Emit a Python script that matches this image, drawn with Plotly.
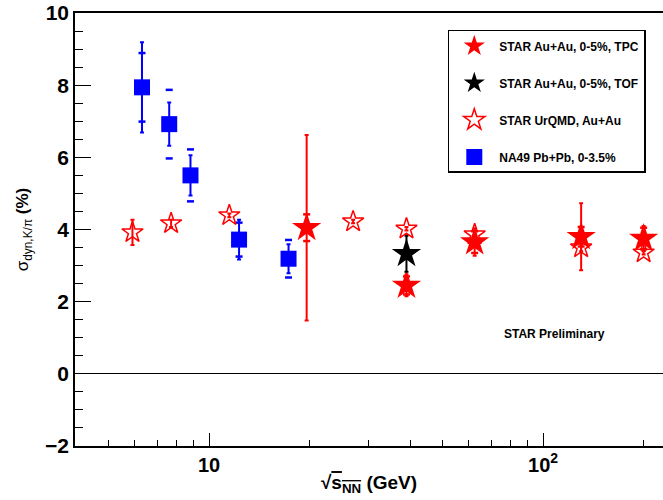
import plotly.graph_objects as go

# ---- data ----
tpc_e = [19.6, 39, 62.4, 130, 200]
tpc_y = [4.05, 2.45, 3.65, 3.8, 3.75]
tpc_stat = [2.57, 0.3, 0.38, 0.93, 0.35]
tpc_sys = [0.37, 0.25, 0.3, 0.27, 0.3]

tof_e = [39]
tof_y = [3.33]
tof_stat = [0.5]

urqmd_e = [5.9, 7.7, 11.5, 27, 39, 62.4, 130, 200]
urqmd_y = [3.92, 4.17, 4.39, 4.22, 4.02, 3.86, 3.5, 3.36]
urqmd_err = [0.35, 0.1, 0.05, 0.05, 0.05, 0.1, 0.1, 0.05]

na49_e = [6.3, 7.6, 8.8, 12.3, 17.3]
na49_y = [7.94, 6.92, 5.5, 3.72, 3.19]
na49_stat = [1.25, 0.6, 0.56, 0.55, 0.4]
na49_sys = [0.95, 0.95, 0.72, 0.47, 0.52]

legend_names = ["STAR Au+Au, 0-5%, TPC", "STAR Au+Au, 0-5%, TOF",
                "STAR UrQMD, Au+Au", "NA49 Pb+Pb, 0-3.5%"]

RED = "#ff0000"
BLUE = "#0000ff"
FONT = "Liberation Sans, Arial, sans-serif"

fig = go.Figure()

# NA49 systematic marks
fig.add_trace(go.Scatter(
    x=na49_e + na49_e,
    y=[v + s for v, s in zip(na49_y, na49_sys)] + [v - s for v, s in zip(na49_y, na49_sys)],
    mode="markers", showlegend=False, hoverinfo="skip",
    marker=dict(symbol="line-ew", size=5, line=dict(color=BLUE, width=2.5)),
))
# STAR TPC systematic marks
fig.add_trace(go.Scatter(
    x=tpc_e + tpc_e,
    y=[v + s for v, s in zip(tpc_y, tpc_sys)] + [v - s for v, s in zip(tpc_y, tpc_sys)],
    mode="markers", showlegend=False, hoverinfo="skip",
    marker=dict(symbol="line-ew", size=5, line=dict(color=RED, width=2.5)),
))

fig.add_trace(go.Scatter(
    x=tpc_e, y=tpc_y, mode="markers", name="<b>%s</b>" % legend_names[0],
    legendgroup="a",
    marker=dict(symbol="star", size=22, color=RED, line=dict(width=0)),
    error_y=dict(type="data", array=tpc_stat, color=RED, thickness=2, width=2),
))
fig.add_trace(go.Scatter(
    x=tof_e, y=tof_y, mode="markers", name="<b>%s</b>" % legend_names[1],
    legendgroup="b",
    marker=dict(symbol="star", size=22, color="black", line=dict(width=0)),
    error_y=dict(type="data", array=tof_stat, color="black", thickness=2, width=2),
))
fig.add_trace(go.Scatter(
    x=urqmd_e, y=urqmd_y, mode="markers", name="<b>%s</b>" % legend_names[2],
    legendgroup="c",
    marker=dict(symbol="star-open", size=16, color=RED, line=dict(width=1.5, color=RED)),
    error_y=dict(type="data", array=urqmd_err, color=RED, thickness=2, width=2),
))
fig.add_trace(go.Scatter(
    x=na49_e, y=na49_y, mode="markers", name="<b>%s</b>" % legend_names[3],
    legendgroup="d",
    marker=dict(symbol="square", size=16, color=BLUE, line=dict(width=0)),
    error_y=dict(type="data", array=na49_stat, color=BLUE, thickness=2, width=2),
))

fig.add_annotation(
    text="<b>STAR Preliminary</b>", x=0.816, y=0.259, xref="paper", yref="paper",
    xanchor="center", yanchor="middle",
    showarrow=False, font=dict(family=FONT, size=12, color="black"),
)

fig.update_layout(
    width=663, height=500,
    margin=dict(l=75, r=0, t=13, b=54),
    plot_bgcolor="white", paper_bgcolor="white",
    font=dict(family=FONT, color="black"),
    showlegend=True,
    legend=dict(
        x=0.634, y=0.961, xanchor="left", yanchor="top",
        bordercolor="black", borderwidth=1.5, bgcolor="white",
        font=dict(family=FONT, size=12, color="black"),
        traceorder="grouped", tracegroupgap=18,
        itemsizing="trace", itemwidth=40,
        entrywidth=190,
    ),
    xaxis=dict(
        type="log", range=[0.5988, 2.359], automargin=False,
        showline=True, linecolor="black", linewidth=1.5, mirror=True,
        showgrid=False, zeroline=False,
        ticks="inside", ticklen=13, tickwidth=1, tickcolor="black",
        tickvals=[10, 100], ticktext=["10", "10<sup>2</sup>"],
        tickfont=dict(family=FONT, size=20, weight="bold"),
        minor=dict(ticks="inside", ticklen=6, tickwidth=1, tickcolor="black",
                   tickvals=[5, 6, 7, 8, 9, 20, 30, 40, 50, 60, 70, 80, 90, 200]),
        title=dict(text="√<span style='text-decoration:overline'>s<sub>NN</sub></span> (GeV)",
                   font=dict(family=FONT, size=19, weight="bold"), standoff=1),
    ),
    yaxis=dict(
        range=[-2, 10], automargin=False,
        showline=True, linecolor="black", linewidth=1.5,
        showgrid=False,
        zeroline=True, zerolinecolor="black", zerolinewidth=1,
        ticks="inside", ticklen=16, tickwidth=1, tickcolor="black",
        tickvals=[-2, 0, 2, 4, 6, 8, 10],
        tickfont=dict(family=FONT, size=21, weight="bold"),
        minor=dict(ticks="inside", ticklen=8, tickwidth=1, tickcolor="black", dtick=0.5),
        title=dict(text="σ<sub>dyn,K/π</sub> <b>(%)</b>",
                   font=dict(family=FONT, size=17), standoff=12),
    ),
)

fig.write_html("out.html")
